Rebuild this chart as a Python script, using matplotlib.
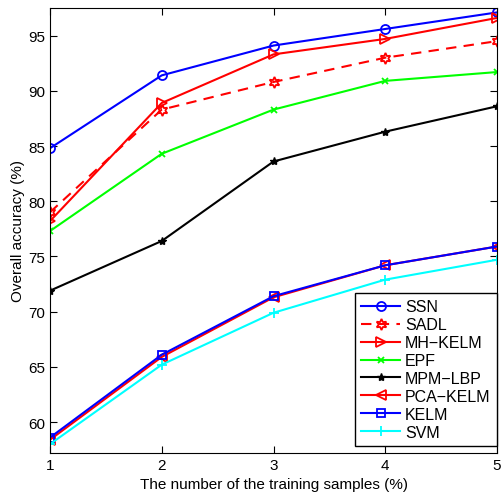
import matplotlib
matplotlib.use('Agg')
import matplotlib.pyplot as plt

plt.rcParams['font.family'] = ['Liberation Sans', 'DejaVu Sans']

samples = [1, 2, 3, 4, 5]
ssn = [84.8, 91.4, 94.1, 95.6, 97.1]
sadl = [79.0, 88.3, 90.8, 93.0, 94.5]
mh_kelm = [78.2, 88.9, 93.3, 94.7, 96.6]
epf = [77.3, 84.3, 88.3, 90.9, 91.7]
mpm_lbp = [71.9, 76.4, 83.6, 86.3, 88.6]
pca_kelm = [58.4, 65.9, 71.3, 74.2, 75.9]
kelm = [58.6, 66.1, 71.4, 74.2, 75.9]
svm = [58.0, 65.2, 69.9, 72.9, 74.7]

fig = plt.figure(figsize=(5.03, 5.02), dpi=100)
ax = fig.add_axes([50/503, 1-454/502, 447/503, 445/502])

lw = 1.5
ax.plot(samples, ssn, color='b', marker='o', ms=6.5, mfc='none', mew=1.3, lw=lw, label='SSN')
ax.plot(samples, sadl, color='r', ls=(0, (5, 3.5)), marker=(6, 1, 0), ms=8, mfc='none', mew=1.3,
        lw=lw, label='SADL')
ax.plot(samples, mh_kelm, color='r', marker='>', ms=7, mfc='none', mew=1.3, lw=lw, label='MH\u2212KELM')
ax.plot(samples, epf, color='#00ff00', marker='x', ms=4.5, mew=1.3, lw=lw, label='EPF')
ax.plot(samples, mpm_lbp, color='k', marker='*', ms=6, lw=lw, label='MPM\u2212LBP')
ax.plot(samples, pca_kelm, color='r', marker='<', ms=7, mfc='none', mew=1.3, lw=lw, label='PCA\u2212KELM')
ax.plot(samples, kelm, color='b', marker='s', ms=6, mfc='none', mew=1.3, lw=lw, label='KELM')
ax.plot(samples, svm, color='#00ffff', marker='+', ms=7, mew=1.3, lw=lw, label='SVM')

ax.set_xlim(1, 5)
ax.set_ylim(57.2, 97.5)
ax.set_xticks(samples)
ax.set_yticks([60, 65, 70, 75, 80, 85, 90, 95])
ax.tick_params(direction='in', top=True, right=True, labelsize=11, length=5)
ax.set_xlabel('The number of the training samples (%)', fontsize=11)
ax.set_ylabel('Overall accuracy (%)', fontsize=11, labelpad=2)

leg = ax.legend(loc='lower right', bbox_to_anchor=(1.0, 7/445), fontsize=11.5, fancybox=False,
                framealpha=1, edgecolor='k', borderaxespad=0, handlelength=2.45,
                handletextpad=0.3, borderpad=0.4, labelspacing=0.18)
leg.get_frame().set_linewidth(1.0)

fig.savefig('out.png', dpi=100)
